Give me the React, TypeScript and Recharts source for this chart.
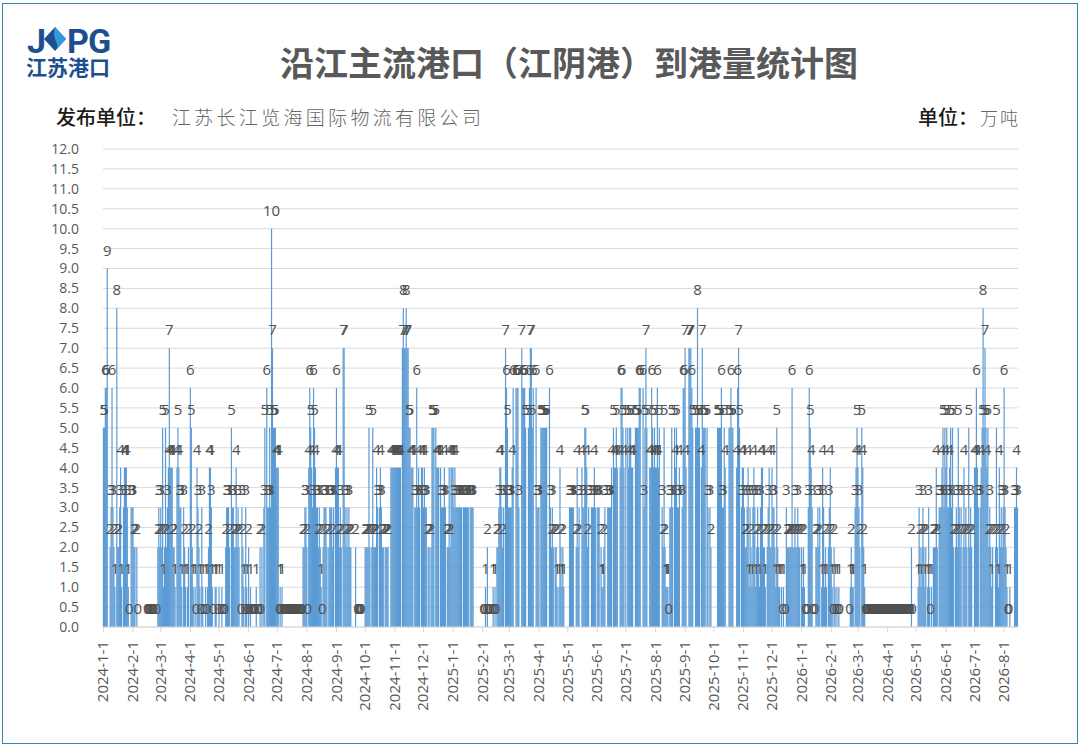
import React from 'react';
import { ComposedChart, Bar, Line, XAxis, YAxis, CartesianGrid, LabelList } from 'recharts';

const _ = null;

// daily arrivals per month (blank = no data that day)
const jan24 = [5,5,6,6,9,_,_,2,3,6,3,2,1,_,8,2,2,3,4,1,_,3,4,4,4,3,1,0,_,3,3];
const feb24 = [3,2,2,_,2,0,_,_,_,_,_,_,_,_,_,0,0,0,0,0,0,0,0,_,_,0,2,3,2];
const mar24 = [3,2,5,1,2,5,2,3,4,7,4,4,4,2,2,1,_,4,5,4,3,3,1,_,3,2,1,_,1,2,_];
const apr24 = [6,5,2,1,_,1,0,4,3,2,1,0,3,1,0,_,1,0,1,2,4,4,3,1,0,_,1,1,_,0];
const may24 = [1,_,0,1,0,_,0,2,3,3,3,2,_,5,3,3,2,2,4,2,3,2,_,0,3,2,1,0,3,1,0];
const jun24 = [2,0,1,0,0,0,0,0,1,_,0,0,2,0,2,_,3,5,_,6,3,3,5,3,10,7,5,5,5,4];
const jul24 = [4,4,0,1,0,1,0,0,0,0,0,0,0,0,0,0,0,0,0,0,0,0,0,0,0,0,0,2,2,3,3];
const aug24 = [2,0,4,6,5,4,3,6,5,4,3,3,2,3,2,1,0,2,3,3,3,2,_,2,3,3,3,2,3,_,4];
const sep24 = [6,4,4,2,3,2,_,7,7,3,2,3,2,3,2,2,_,_,_,_,2,_,0,0,0,0,0,_,_,_];
const oct24 = [2,2,2,2,5,2,_,2,5,2,2,2,4,3,_,3,4,3,2,2,_,2,2,2,2,_,_,4,4,4,4];
const nov24 = [4,4,4,4,4,4,4,_,7,8,7,7,8,7,7,5,5,4,4,4,_,3,3,6,3,4,3,_,4,4];
const dec24 = [3,4,3,3,_,2,2,_,2,5,5,5,_,5,4,4,4,_,4,3,3,3,4,3,_,2,2,4,2,4,4];
const jan25 = [4,3,4,3,3,3,3,3,3,3,_,3,3,3,3,3,3,_,3,3,3,3,_,_,_,_,_,_,_,_,_];
const feb25 = [_,0,0,1,0,2,0,0,_,_,0,1,0,1,0,2,2,3,4,4,3,2,3,_,7,6,5,3];
const mar25 = [3,3,3,4,6,_,_,6,6,6,3,_,_,7,6,6,6,5,_,_,5,6,7,7,5,6,_,_,6,3,3];
const apr25 = [3,_,5,5,5,5,5,5,5,_,_,6,3,2,3,2,_,2,2,1,_,1,4,2,1,2,1,_,_,_];
const may25 = [_,_,3,3,3,3,3,_,_,2,4,2,3,_,_,4,3,3,5,5,4,2,3,_,_,3,3,3,4,3,_];
const jun25 = [3,3,3,_,2,1,1,2,3,_,_,3,3,3,3,4,_,5,4,4,5,4,_,_,4,6,6,5,4,_];
const jul25 = [5,_,5,4,5,5,4,4,_,_,5,5,5,5,6,6,_,_,6,3,5,7,5,_,_,4,4,6,5,4,5];
const aug25 = [4,4,6,4,5,_,_,3,2,5,2,1,1,1,0,3,3,5,3,_,5,4,5,3,3,4,_,_,3,6,6];
const sep25 = [7,4,_,_,7,7,7,6,5,_,_,5,5,8,5,5,_,4,7,5,5,5,_,5,3,_,3,2,_,_];
const oct25 = [_,_,_,_,5,5,5,5,6,3,3,5,4,_,_,_,5,5,6,5,5,_,_,_,4,6,7,5,_,3,4];
const nov25 = [4,3,2,2,3,4,1,3,2,1,3,4,3,1,2,3,2,1,3,4,4,2,2,1,_,2,3,4,2,2];
const dec25 = [4,3,3,2,1,5,2,1,1,_,1,0,1,_,0,3,2,2,2,2,2,6,2,2,3,2,2,3,2,2,_];
const jan26 = [2,1,2,1,0,_,0,3,6,5,4,3,0,_,0,2,2,3,2,3,_,1,4,3,1,2,1,_,2,3,4];
const feb26 = [2,1,0,2,1,0,1,0,1,0,_,_,_,_,_,_,_,_,_,0,1,2,1,1,_,3,4,5];
const mar26 = [4,3,2,_,5,4,2,1,0,0,0,0,0,0,0,0,0,0,0,0,0,0,0,0,0,0,0,0,0,0,0];
const apr26 = [0,0,0,0,0,0,0,0,0,0,0,0,0,0,0,0,0,0,0,0,0,0,0,0,0,2,0,_,_,_];
const may26 = [_,_,1,3,2,1,2,3,2,1,2,_,1,3,1,0,1,_,2,2,2,4,2,_,3,3,3,4,5,3,5];
const jun26 = [4,5,3,3,4,5,3,5,2,_,2,3,2,5,3,2,3,_,2,4,2,3,2,_,5,2,3,2,_,_];
const jul26 = [4,4,6,4,3,_,3,4,5,8,5,7,5,4,5,2,3,2,1,2,_,_,2,5,2,1,4,2,3,2,3];
const aug26 = [6,3,2,1,0,0,1,_,_,_,_,3,3,4,3];

const months: [string, (number | null)[]][] = [
  ['2024-1', jan24], ['2024-2', feb24], ['2024-3', mar24], ['2024-4', apr24],
  ['2024-5', may24], ['2024-6', jun24], ['2024-7', jul24], ['2024-8', aug24],
  ['2024-9', sep24], ['2024-10', oct24], ['2024-11', nov24], ['2024-12', dec24],
  ['2025-1', jan25], ['2025-2', feb25], ['2025-3', mar25], ['2025-4', apr25],
  ['2025-5', may25], ['2025-6', jun25], ['2025-7', jul25], ['2025-8', aug25],
  ['2025-9', sep25], ['2025-10', oct25], ['2025-11', nov25], ['2025-12', dec25],
  ['2026-1', jan26], ['2026-2', feb26], ['2026-3', mar26], ['2026-4', apr26],
  ['2026-5', may26], ['2026-6', jun26], ['2026-7', jul26], ['2026-8', aug26],
];

const yTicks = [0, 0.5, 1, 1.5, 2, 2.5, 3, 3.5, 4, 4.5, 5, 5.5, 6, 6.5, 7, 7.5, 8, 8.5, 9, 9.5, 10, 10.5, 11, 11.5, 12];

const chartData = months.flatMap(([month, values]) =>
  values.map((v, i) => ({ date: `${month}-${i + 1}`, v }))
);
const monthTicks = months.map(([month]) => `${month}-1`);

const SANS = '"Open Sans", sans-serif';
const CJK = '"Noto Sans CJK SC", sans-serif';

// rotated date labels under the axis
const DateTick = ({ x, y, payload }: any) => (
  <text
    x={x}
    y={y + 7}
    transform={`rotate(-90 ${x} ${y + 7})`}
    textAnchor="end"
    dy={5}
    fontSize={15}
    fontFamily={SANS}
    fill="#595959"
  >
    {payload.value}
  </text>
);

// bars wider than the 1px recharts rounds down to, so runs of days close up
const DayBar = ({ x, y, width, height, fill }: any) => (
  <rect x={x + width / 2 - 0.6} y={y} width={1.2} height={height} fill={fill} />
);

// the labels hang off an invisible line: bars drop their labels at zero
const ValueLabel = (props: any) => {
  const box = props.viewBox ?? props;
  if (props.value === null || props.value === undefined) return null;
  return (
    <text
      x={box.x + (box.width || 0) / 2}
      y={box.y - 13}
      textAnchor="middle"
      fontSize={15}
      fontFamily={SANS}
      fill="#505050"
    >
      {props.value}
    </text>
  );
};

const Logo = () => (
  <div style={{ position: 'absolute', left: 26, top: 24, width: 90, height: 56, color: '#1d4f8f' }}>
    <div style={{ position: 'absolute', left: 1, top: -3, fontFamily: 'Roboto, sans-serif', fontWeight: 700, fontSize: 34, lineHeight: '40px' }}>J</div>
    <svg style={{ position: 'absolute', left: 18, top: 2 }} width="22" height="26" viewBox="0 0 24 26">
      <polygon points="12,0 24,13 12,26 0,13" fill="#1d4f8f" />
      <path d="M12 0 L24 13 L14 24 C17 17 8 14 12 0 Z" fill="#2f9bd8" />
    </svg>
    <div style={{ position: 'absolute', left: 41, top: -3, fontFamily: 'Roboto, sans-serif', fontWeight: 700, fontSize: 34, lineHeight: '40px', letterSpacing: -1 }}>PG</div>
    <div style={{ position: 'absolute', left: 0, top: 29, fontFamily: CJK, fontWeight: 700, fontSize: 21, lineHeight: '26px', whiteSpace: 'nowrap' }}>江苏港口</div>
  </div>
);

const App: React.FC = () => {
  return (
    <div style={{ position: 'absolute', left: 0, top: 0, width: 1080, height: 747, background: '#fff', overflow: 'hidden' }}>
      <div style={{ position: 'absolute', left: 2, top: 3, width: 1074, height: 739, border: '1px solid #2e88aa' }} />
      <Logo />
      <div style={{ position: 'absolute', left: 280, top: 38, fontFamily: CJK, fontWeight: 700, fontSize: 34, lineHeight: '48px', color: '#595959', whiteSpace: 'nowrap' }}>
        沿江主流港口（江阴港）到港量统计图
      </div>
      <div style={{ position: 'absolute', left: 56, top: 102, fontFamily: CJK, fontWeight: 500, fontSize: 20, lineHeight: '30px', color: '#1a1a1a', whiteSpace: 'nowrap' }}>
        发布单位：
      </div>
      <div style={{ position: 'absolute', left: 172, top: 102, fontFamily: CJK, fontWeight: 300, fontSize: 19, lineHeight: '30px', letterSpacing: 3.3, color: '#666', whiteSpace: 'nowrap' }}>
        江苏长江览海国际物流有限公司
      </div>
      <div style={{ position: 'absolute', left: 918, top: 102, fontFamily: CJK, fontWeight: 500, fontSize: 20, lineHeight: '30px', color: '#1a1a1a', whiteSpace: 'nowrap' }}>
        单位：
      </div>
      <div style={{ position: 'absolute', left: 980, top: 102, fontFamily: CJK, fontWeight: 300, fontSize: 18, lineHeight: '30px', letterSpacing: 2, color: '#666', whiteSpace: 'nowrap' }}>
        万吨
      </div>
      <div style={{ position: 'absolute', left: 0, top: 0 }}>
        <ComposedChart
          width={1080}
          height={747}
          data={chartData}
          margin={{ top: 149, right: 62, bottom: 0, left: 0 }}
        >
          <CartesianGrid vertical={false} stroke="#d9d9d9" />
          <XAxis
            dataKey="date"
            ticks={monthTicks}
            interval={0}
            height={120}
            stroke="#d9d9d9"
            tickSize={5}
            tick={<DateTick />}
          />
          <YAxis
            width={103}
            domain={[0, 12]}
            ticks={yTicks}
            interval={0}
            axisLine={false}
            tickLine={false}
            tickMargin={18}
            tickFormatter={(v: number) => v.toFixed(1)}
            tick={{ fontSize: 14, fontFamily: SANS, fill: '#595959' }}
          />
          <Bar dataKey="v" fill="#5b9bd5" barSize={1} shape={DayBar} isAnimationActive={false} />
          <Line dataKey="v" stroke="none" dot={false} legendType="none" isAnimationActive={false}>
            <LabelList dataKey="v" content={ValueLabel} />
          </Line>
        </ComposedChart>
      </div>
    </div>
  );
};

export default App;
